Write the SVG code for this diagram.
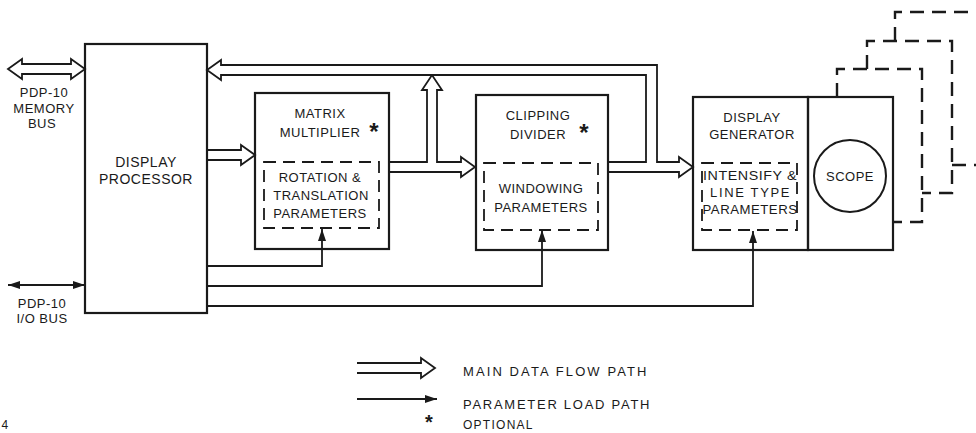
<svg xmlns="http://www.w3.org/2000/svg" width="976" height="433" viewBox="0 0 976 433">
<style>
.box{fill:none;stroke:#1a1a1a;stroke-width:2.2}
.dash{fill:none;stroke:#1a1a1a;stroke-width:1.8;stroke-dasharray:12 7}
.frame{fill:none;stroke:#1a1a1a;stroke-width:2.4;stroke-dasharray:14 8}
.flow{fill:#fff;stroke:#1a1a1a;stroke-width:1.8;stroke-linejoin:miter}
.param{fill:none;stroke:#1a1a1a;stroke-width:1.8}
text{font-family:"Liberation Sans",Arial,sans-serif;font-size:13px;fill:#1a1a1a;text-anchor:middle;letter-spacing:0.5px}
.lg{text-anchor:start}
.ast{font-size:24px;font-weight:bold;letter-spacing:0}
</style>
<defs>
<marker id="fa" viewBox="0 0 12 8" refX="12" refY="4" markerWidth="12" markerHeight="8" markerUnits="userSpaceOnUse" orient="auto-start-reverse">
<path d="M0,0 L12,4 L0,8 Z" fill="#1a1a1a"/>
</marker>
</defs>

<g id="connectors">
<path class="flow" d="M8,69 L22,59 L22,64 L71,64 L71,59 L85,69 L71,79 L71,74 L22,74 L22,79 Z"/>
<path class="flow" d="M207,150 H241 V145 L255,155 L241,165 V160 H207"/>
<path class="flow" d="M389,162 H427 V90 H422 L432,75 L442,90 H437 V162 H461 V157 L475,167 L461,177 V172 H389"/>
<path class="flow" d="M609,162 H646 V75 H221 V80 L207,70 L221,60 V65 H657 V162 H679 V157 L693,167 L679,177 V172 H609"/>
<line class="param" x1="8" y1="285" x2="85" y2="285" marker-start="url(#fa)" marker-end="url(#fa)"/>
<path class="param" d="M207,266 H322 V229" marker-end="url(#fa)"/>
<path class="param" d="M207,286 H542 V230" marker-end="url(#fa)"/>
<path class="param" d="M207,306 H753 V231" marker-end="url(#fa)"/>
<path class="frame" d="M837,97 V69 H922 V222 H893"/>
<path class="frame" d="M867,69 V41 H952 V193 H922"/>
<path class="frame" d="M895,41 V12 H976"/>
<path class="frame" d="M952,165 H976"/>
</g>

<g id="memory-bus-label">
<text x="44" y="97">PDP-10</text>
<text x="44" y="113">MEMORY</text>
<text x="42" y="128">BUS</text>
</g>
<g id="io-bus-label">
<text x="42" y="308">PDP-10</text>
<text x="42" y="323">I/O BUS</text>
</g>

<g id="display-processor">
<rect class="box" x="85" y="44" width="122" height="269"/>
<text x="146" y="167" style="font-size:14px">DISPLAY</text>
<text x="146" y="184" style="font-size:14px">PROCESSOR</text>
</g>

<g id="matrix-multiplier">
<rect class="box" x="255" y="93" width="134" height="156"/>
<text x="320" y="118">MATRIX</text>
<text x="320" y="137">MULTIPLIER</text>
<text class="ast" x="374" y="140">*</text>
<rect class="dash" x="264" y="162" width="115" height="66"/>
<text x="320" y="182">ROTATION  &amp;</text>
<text x="321" y="200">TRANSLATION</text>
<text x="320" y="218">PARAMETERS</text>
</g>

<g id="clipping-divider">
<rect class="box" x="476" y="95" width="132" height="155"/>
<text x="538" y="120">CLIPPING</text>
<text x="538" y="139">DIVIDER</text>
<text class="ast" x="584" y="141">*</text>
<rect class="dash" x="484" y="163" width="114" height="67"/>
<text x="541" y="193">WINDOWING</text>
<text x="541" y="212">PARAMETERS</text>
</g>

<g id="display-generator">
<rect class="box" x="693" y="97" width="115" height="153"/>
<text x="752" y="122">DISPLAY</text>
<text x="752" y="139">GENERATOR</text>
<rect class="dash" x="702" y="163" width="95" height="67"/>
<text x="750" y="180" textLength="94" lengthAdjust="spacingAndGlyphs">INTENSIFY &amp;</text>
<text x="750" y="197" textLength="80" lengthAdjust="spacing">LINE TYPE</text>
<text x="750" y="214" textLength="95" lengthAdjust="spacingAndGlyphs">PARAMETERS</text>
</g>

<g id="scope">
<rect class="box" x="808" y="97" width="85" height="153"/>
<circle cx="850" cy="176" r="36" fill="none" stroke="#1a1a1a" stroke-width="2"/>
<text x="850" y="181">SCOPE</text>
</g>

<g id="legend">
<path class="flow" d="M357,363 H421 V358 L435,368 L421,378 V373 H357"/>
<line class="param" x1="357" y1="399" x2="437" y2="399" marker-end="url(#fa)"/>
<text class="lg" x="463" y="376" textLength="184" lengthAdjust="spacing">MAIN  DATA FLOW  PATH</text>
<text class="lg" x="463" y="409" textLength="187" lengthAdjust="spacing">PARAMETER  LOAD PATH</text>
<text class="ast" x="429" y="429" style="font-size:20px">*</text>
<text class="lg" x="463" y="429" textLength="70" lengthAdjust="spacing" style="font-size:12px">OPTIONAL</text>
</g>

<g id="page-number">
<text x="5" y="429" style="font-size:12px">4</text>
</g>
</svg>
